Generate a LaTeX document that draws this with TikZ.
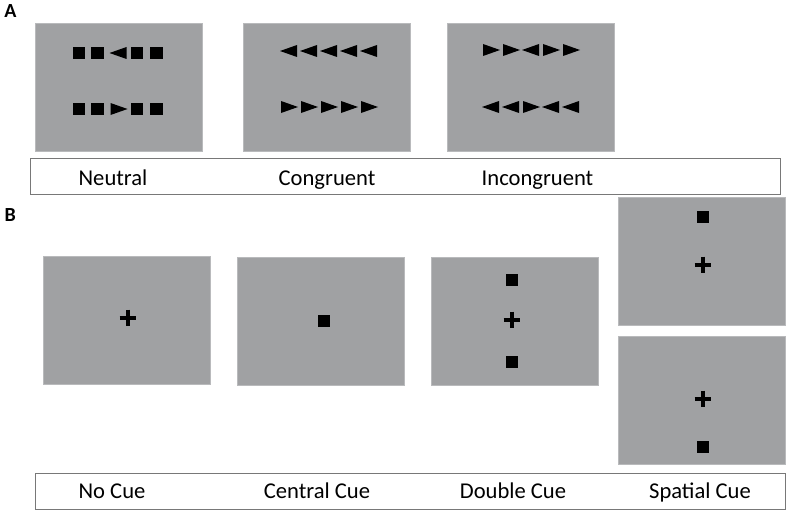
\documentclass[tikz,border=0pt]{standalone}
\usepackage{fontspec}
\setmainfont{Carlito}
\definecolor{scr}{RGB}{160,161,163}
\definecolor{scrline}{RGB}{185,186,188}
\definecolor{boxline}{RGB}{120,120,120}
\begin{document}
\begin{tikzpicture}[x=1pt,y=-1pt,
  screen/.style={fill=scr,draw=scrline,line width=0.8pt,minimum width=167pt,minimum height=128pt,inner sep=0pt},
  labelbox/.style={draw=boxline,line width=1pt,fill=white},
  captext/.style={font=\fontsize{22.6}{27}\selectfont,anchor=base,inner sep=0pt},
  panel/.style={font=\bfseries\fontsize{20}{22}\selectfont,inner sep=0pt},
  larr/.pic={\fill[black] (-9,0)--(8,-6)--(8,6)--cycle;},
  rarr/.pic={\fill[black] (9,0)--(-8,-6)--(-8,6)--cycle;},
  blk/.pic={\fill[black] (-6.4,-6.4) rectangle (6.4,6.4);},
  crs/.pic={\draw[black,line width=3.3pt] (-8.3,0)--(8.3,0) (0,-8.3)--(0,8.3);}
]
\useasboundingbox (0,0) rectangle (787,511);
% Panel labels
\node[panel] (pA) at (10.5,11.5) {A};
\node[panel] (pB) at (10.3,215.5) {B};
% ---- Panel A ----
\node[screen] (a1) at (118.5,87) {};
\node[screen] (a2) at (327,87) {};
\node[screen] (a3) at (530.5,87.5) {};
% Neutral
\foreach \x in {79,97.5,137,156.5}{\pic at (\x,53) {blk}; \pic at (\x,109) {blk};}
\pic at (118.5,53) {larr};
\pic at (118.5,109) {rarr};
% Congruent
\foreach \x in {289,309,329,349,369}{\pic at (\x,51) {larr}; \pic at (\x,107) {rarr};}
% Incongruent
\foreach \x in {491,511,551,571}{\pic at (\x,50) {rarr}; \pic at (\x,107) {larr};}
\pic at (531,50) {larr};
\pic at (531,107) {rarr};
% Label box A
\node[labelbox,minimum width=750pt,minimum height=36pt,inner sep=0pt] (la) at (405,176) {};
\node[captext] (tn) at (113,185) {Neutral};
\node[captext] (tc) at (327,185) {Congruent};
\node[captext] (ti) at (537.5,185) {Incongruent};
% ---- Panel B ----
\node[screen] (b1) at (126.5,320.5) {};
\node[screen] (b2) at (321,321) {};
\node[screen] (b3) at (514.5,321) {};
\node[screen] (b4) at (701.5,261.5) {};
\node[screen] (b5) at (701.5,400) {};
\pic at (128,318) {crs};
\pic at (324,321) {blk};
\pic at (512,280) {blk};
\pic at (512,320) {crs};
\pic at (512,362) {blk};
\pic at (703,217) {blk};
\pic at (703,265) {crs};
\pic at (703,399) {crs};
\pic at (703,447) {blk};
% Label box B
\node[labelbox,minimum width=750pt,minimum height=36pt,inner sep=0pt] (lb) at (410,491) {};
\node[captext] (tnc) at (112,498) {No Cue};
\node[captext] (tcc) at (317,498) {Central Cue};
\node[captext] (tdc) at (513,498) {Double Cue};
\node[captext] (tsc) at (700,498) {Spatial Cue};
\end{tikzpicture}
\end{document}
